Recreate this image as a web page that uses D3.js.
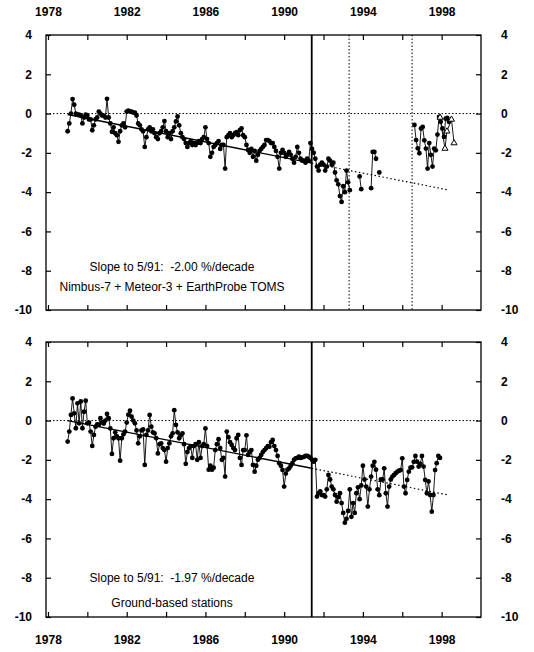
<!DOCTYPE html>
<html>
<head>
<meta charset="utf-8">
<script src="https://d3js.org/d3.v7.min.js"></script>
<style>
    body { margin: 0; background: #fff; }
    svg text { font-family: "Liberation Sans", Arial, Helvetica, sans-serif; fill: #000; }
</style>
</head>
<body>
<svg id="chart" width="534" height="652"></svg>
<script>
'use strict';

// tick labels
var yearTicks = [1978, 1980, 1982, 1984, 1986, 1988, 1990, 1992, 1994, 1996, 1998];
var yearLabels = [1978, 1982, 1986, 1990, 1994, 1998];
var valueTicks = [-10, -8, -6, -4, -2, 0, 2, 4];

// markers in time
var pinatuboYear = 1991.4;
var instrumentYears = [1993.3, 1996.5];

// Nimbus-7 TOMS, monthly from Jan 1979 (% deviation)
var tomsStart = 1979;
var tomsValues = [
    -0.9, -0.5, 0.0, 0.74, 0.45, 0.0, -0.05, -0.05, -0.1, -0.5, -0.2, -0.05,
    -0.1, -0.3, -0.3, -0.85, -0.6, -0.3, -0.2, 0.1, 0.0, -0.1, -0.1, -0.2,
    0.75, -0.2, -0.5, -0.93, -0.7, -1.0, -1.1, -1.44, -0.9, -0.6, -0.5, -0.7,
    0.1, 0.15, 0.1, 0.1, 0.05, 0.05, -0.1, -0.5, -0.6, -0.8, -0.9, -1.7,
    -1.2, -0.8, -0.7, -0.9, -0.8, -1.0, -1.2, -1.3, -1.0, -0.9, -0.7, -0.38,
    -0.9, -1.2, -1.0, -1.3, -0.9, -0.7, -0.4, -0.15, -0.6, -1.0, -1.2, -1.3,
    -1.5, -1.7, -1.5, -1.4, -1.6, -1.5, -1.6, -1.5, -1.4, -1.5, -1.3, -1.2,
    -0.7, -1.3, -1.5, -2.2, -2.0, -1.7, -1.6, -1.5, -1.4, -1.8, -1.6, -1.6,
    -2.8, -1.2, -1.1, -1.0, -1.2, -1.1, -1.0, -0.95, -1.1, -0.85, -0.75, -1.1,
    -1.2, -1.6, -1.85, -2.0, -1.8, -2.2, -1.9, -2.4, -2.1, -1.9, -1.8, -1.7,
    -1.6, -1.35, -1.35, -1.4, -1.5, -1.5, -1.7, -1.9, -2.2, -2.8, -2.0, -1.85,
    -2.0, -2.2, -2.1, -1.95, -2.1, -2.3, -2.5, -2.2, -1.7, -2.0, -2.3, -2.4,
    -2.4, -2.5, -2.3, -2.4, -1.5, -1.8, -2.0, -2.3, -2.7, -2.9, -2.6, -2.5,
    -2.6, -2.9, -2.7, -2.3, -2.4, -2.6, -2.5, -3.0, -3.4, -3.6, -4.2, -4.5,
    -3.7, -4.0, -2.9, -3.5, -3.9
];

// Meteor-3 TOMS, monthly from Nov 1993, gaps as null
var meteorStart = 1993 + 10 / 12;
var meteorValues = [-3.2, -3.85, null, null, null, null, null, -3.8, -1.95, -1.95, -2.3, null, -3.0];

// EarthProbe TOMS, monthly from Aug 1996
var earthProbeStart = 1996.62;
var earthProbeValues = [
    -0.58, -1.35, -1.77, -2.02, -0.76, -0.68, -1.36, -1.78, -2.8, -1.5, -2.1, -2.7,
    -1.78, -1.87, -1.07, -0.17, -0.42, -0.76, -1.19, -0.26, -0.22, -0.42
];

// open triangles at the end of the TOMS record
var triangleYears = [1997.92, 1998.17, 1998.27, 1998.5, 1998.63];
var triangleValues = [-0.2, -1.78, -0.9, -0.3, -1.5];

// ground-based stations, monthly from Jan 1979
var groundStart = 1979;
var groundValues = [
    -1.07, -0.56, 0.29, 1.13, 0.37, -0.39, 0.88, -0.14, 0.97, -0.39, 0.45, 1.01,
    -0.14, -0.1, -0.56, -1.29, -0.73, -0.31, -0.2, -0.22, 0.12, -0.1, -0.15, 0.0,
    0.34, 0.12, -0.4, -1.7, -0.9, -0.6, -0.8, -0.9, -2.04, -0.9, -0.7, -0.56,
    -0.1, 0.3, 0.5, 0.2, 0.0, -0.14, -0.5, -1.16, -0.8, -0.5, -0.45, -2.26,
    -0.73, -0.5, 0.29, -0.31, -0.6, -0.65, -0.9, -1.67, -1.2, -1.16, -1.4, -1.5,
    -2.09, -1.4, -1.16, -0.8, -0.65, 0.53, -0.22, -0.6, -0.9, -0.75, -0.65, -1.2,
    -2.2, -1.6, -1.4, -1.3, -1.9, -1.3, -1.2, -2.0, -1.1, -1.9, -1.3, -1.2,
    -0.4, -1.3, -2.5, -2.3, -2.5, -2.4, -1.5, -1.2, -0.95, -1.4, -2.0, -1.9,
    -2.85, -0.56, -0.85, -1.1, -1.24, -1.4, -1.5, -0.9, -0.73, -1.9, -2.26, -1.5,
    -1.5, -0.75, -1.75, -1.6, -1.5, -2.26, -2.6, -2.3, -2.0, -1.9, -1.75, -1.6,
    -1.5, -1.41, -1.3, -1.33, -1.1, -0.99, -1.3, -1.5, -1.8, -2.17, -2.3, -2.51,
    -3.36, -2.7, -2.5, -2.43, -2.3, -2.17, -2.0, -1.92, -1.9, -1.84, -1.9, -1.87,
    -1.85, -1.8, -1.8, -1.84, -1.9, -2.0, -2.09, -2.0, -3.87, -3.7, -3.6, -3.79,
    -3.8, -3.87, -3.5, -2.77, -3.0, -3.36, -3.5, -3.79, -4.13, -3.9, -3.7, -4.2,
    -4.7, -5.2, -5.0, -4.6, -3.5, -4.9, -4.2, -4.7, -3.7, -3.4, -4.0, -3.3,
    -2.3, -3.0, -3.36, -4.38, -3.5, -2.85, -2.3, -2.1, -2.5, -3.5, -3.8, -3.0,
    -3.0, -2.43, -3.7, -4.38, -3.36, -3.0, -2.85, -2.77, -2.68, -2.6, -2.55, -2.52,
    -1.92, -3.36, -3.7, -3.02, -2.6, -2.4, -2.38, -2.1, -1.8, -2.09, -2.34, -2.2,
    -1.8, -2.34, -3.02, -3.7, -3.1, -3.79, -4.64, -3.79, -2.52, -2.17, -1.8, -1.9
];

// linear trends: fitted to 5/91, extended dotted afterwards
var trendYears = [1979, 1991.4, 1998.3];
var tomsTrend = [-0.05, -2.52, -3.88];
var groundTrend = [0.0, -2.43, -3.78];

var svg = d3.select('#chart');
var x = d3.scaleLinear().domain([1977.9, 2000]).range([46, 481]);
var x0 = x.range()[0], x1 = x.range()[1];

var monthly = function(start, values) {
    return values.map(function(v, i) { return { t: start + i / 12, v: v }; });
};
var pairs = function(years, values) {
    return years.map(function(t, i) { return { t: t, v: values[i] }; });
};

var drawPanel = function(p) {
    var y = d3.scaleLinear().domain([-10, 4]).range([p.bottom, p.top]);
    var g = svg.append('g');

    // zero line
    g.append('line')
        .attr('x1', x0).attr('x2', x1).attr('y1', y(0)).attr('y2', y(0))
        .attr('stroke', '#000').attr('stroke-width', 1).attr('stroke-dasharray', '1.5,2');

    // instrument change lines
    p.dotted.forEach(function(t) {
        g.append('line')
            .attr('x1', x(t)).attr('x2', x(t)).attr('y1', p.top).attr('y2', p.bottom)
            .attr('stroke', '#000').attr('stroke-width', 1).attr('stroke-dasharray', '1.5,2');
    });

    // Pinatubo
    g.append('line')
        .attr('x1', x(pinatuboYear)).attr('x2', x(pinatuboYear)).attr('y1', p.top).attr('y2', p.bottom)
        .attr('stroke', '#000').attr('stroke-width', 1.8);

    var line = d3.line()
        .defined(function(d) { return d.v !== null; })
        .x(function(d) { return x(d.t); })
        .y(function(d) { return y(d.v); });

    // trend
    var tr = pairs(trendYears, p.trend);
    g.append('path').attr('d', line(tr.slice(0, 2)))
        .attr('fill', 'none').attr('stroke', '#000').attr('stroke-width', 1.4);
    g.append('path').attr('d', line(tr.slice(1)))
        .attr('fill', 'none').attr('stroke', '#000').attr('stroke-width', 1.2).attr('stroke-dasharray', '1.5,2.5');

    // series
    p.series.forEach(function(s) {
        g.append('path').attr('d', line(s))
            .attr('fill', 'none').attr('stroke', '#000').attr('stroke-width', 0.9);
        g.selectAll(null).data(s.filter(function(d) { return d.v !== null; }))
            .enter().append('circle')
            .attr('cx', function(d) { return x(d.t); })
            .attr('cy', function(d) { return y(d.v); })
            .attr('r', 2.4)
            .attr('fill', '#000');
    });

    if (p.triangles) {
        g.append('path').attr('d', line(p.triangles))
            .attr('fill', 'none').attr('stroke', '#000').attr('stroke-width', 0.9);
        g.selectAll(null).data(p.triangles)
            .enter().append('path')
            .attr('d', d3.symbol(d3.symbolTriangle).size(16))
            .attr('transform', function(d) { return 'translate(' + x(d.t) + ',' + y(d.v) + ')'; })
            .attr('fill', '#fff').attr('stroke', '#000').attr('stroke-width', 1);
    }

    // frame
    g.append('rect')
        .attr('x', x0).attr('y', p.top).attr('width', x1 - x0).attr('height', p.bottom - p.top)
        .attr('fill', 'none').attr('stroke', '#000').attr('stroke-width', 1.3);

    var fmt = function(d) { return String(d); };
    var yearFmt = function(d) { return yearLabels.indexOf(d) >= 0 ? String(d) : ''; };
    var none = function() { return ''; };

    var axes = [
        { axis: d3.axisLeft(y).tickValues(valueTicks).tickSize(-5).tickPadding(14).tickFormat(fmt), tx: x0, ty: 0 },
        { axis: d3.axisRight(y).tickValues(valueTicks).tickSize(-5).tickPadding(20).tickFormat(fmt), tx: x1, ty: 0 },
        { axis: d3.axisTop(x).tickValues(yearTicks).tickSize(-5).tickPadding(19).tickFormat(p.topLabels ? yearFmt : none), tx: 0, ty: p.top },
        { axis: d3.axisBottom(x).tickValues(yearTicks).tickSize(-5).tickPadding(18).tickFormat(p.bottomLabels ? yearFmt : none), tx: 0, ty: p.bottom }
    ];
    axes.forEach(function(a) {
        var ag = g.append('g').attr('transform', 'translate(' + a.tx + ',' + a.ty + ')').call(a.axis);
        ag.select('.domain').remove();
        ag.selectAll('line').attr('stroke', '#000').attr('stroke-width', 1.2);
        ag.selectAll('text').style('font-size', '12px').style('font-weight', 'bold')
            .style('font-family', '"Liberation Sans", Arial, sans-serif');
    });

    // labels
    p.notes.forEach(function(n) {
        g.append('text')
            .attr('x', 172).attr('y', n.y)
            .attr('text-anchor', 'middle')
            .style('font-size', '12px')
            .style('white-space', 'pre')
            .text(n.text);
    });
};

drawPanel({
    top: 35, bottom: 310,
    dotted: instrumentYears,
    trend: tomsTrend,
    series: [monthly(tomsStart, tomsValues), monthly(meteorStart, meteorValues), monthly(earthProbeStart, earthProbeValues)],
    triangles: pairs(triangleYears, triangleValues),
    topLabels: true, bottomLabels: false,
    notes: [
        { y: 271, text: 'Slope to 5/91:  -2.00 %/decade' },
        { y: 291, text: 'Nimbus-7 + Meteor-3 + EarthProbe TOMS' }
    ]
});

drawPanel({
    top: 342, bottom: 617,
    dotted: [],
    trend: groundTrend,
    series: [monthly(groundStart, groundValues)],
    triangles: null,
    topLabels: false, bottomLabels: true,
    notes: [
        { y: 582, text: 'Slope to 5/91:  -1.97 %/decade' },
        { y: 607, text: 'Ground-based stations' }
    ]
});
</script>
</body>
</html>
